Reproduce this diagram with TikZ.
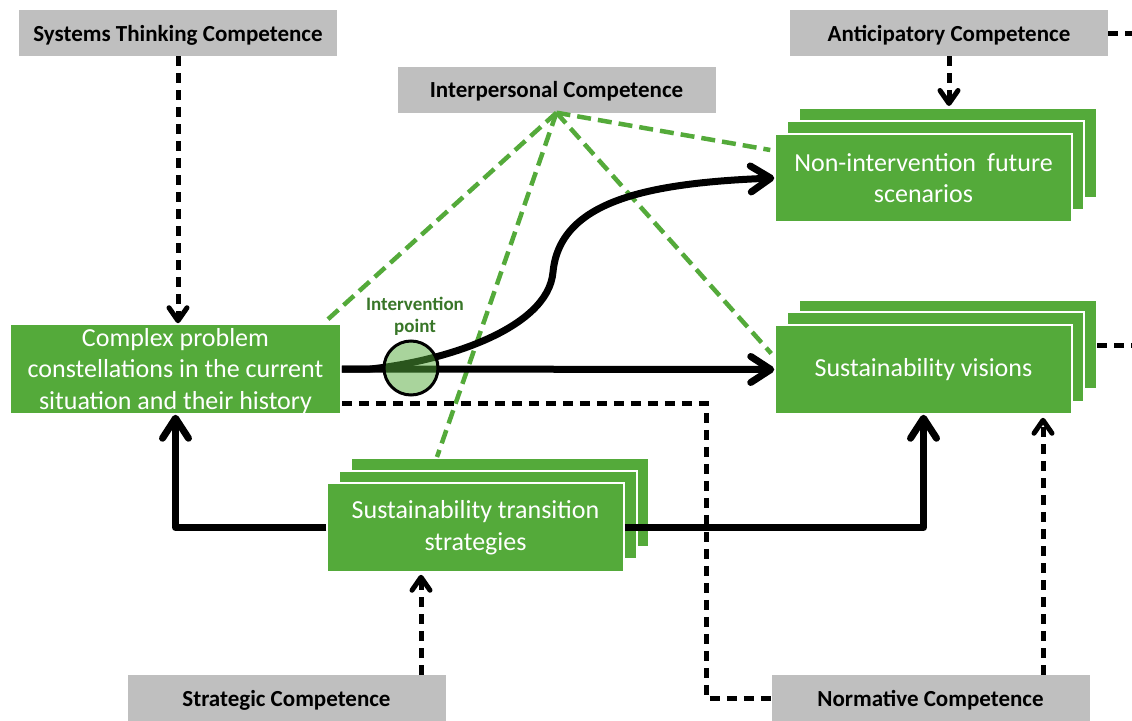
\documentclass[tikz,border=0pt]{standalone}
\usepackage{fontspec}
\setmainfont{Carlito}
\usetikzlibrary{arrows.meta,calc}
\definecolor{boxgreen}{RGB}{84,170,58}
\definecolor{boxgray}{RGB}{191,191,191}
\definecolor{darkgreen}{RGB}{56,118,40}
\begin{document}
\begin{tikzpicture}[x=1pt,y=-1pt,
  comp/.style={fill=boxgray, inner sep=0pt, font=\bfseries\fontsize{23}{27}\selectfont, minimum width=318pt, minimum height=46pt, text height=18pt, text depth=2pt},
  gbox/.style={fill=boxgreen, draw=white, line width=1.5pt, text=white, inner sep=0pt, font=\fontsize{26}{31.5}\selectfont, align=center},
  layer/.style={fill=boxgreen, draw=white, line width=1.5pt},
  bdash/.style={draw=black, line width=5pt, dash pattern=on 10pt off 7pt},
  gdash/.style={draw=boxgreen, line width=4.5pt, dash pattern=on 14pt off 7pt},
  thick line/.style={draw=black, line width=7pt, line join=round},
  bigtip/.style={-{Straight Barb[length=20pt,width=26pt,round]}},
  smalltip/.style={-{Straight Barb[length=13pt,width=18pt,round]}}]
\useasboundingbox (0,0) rectangle (1132,720);

% stacked back layers
\draw[layer] (799,108) rectangle (1097,198);
\draw[layer] (787,121) rectangle (1084,210);
\draw[layer] (799,300) rectangle (1097,389);
\draw[layer] (787,312) rectangle (1084,402);
\draw[layer] (351,458) rectangle (649,547);
\draw[layer] (339,471) rectangle (637,559);

% gray competence boxes
\node[comp] (sys) at (178,33) {Systems Thinking Competence};
\node[comp] (ant) at (949,33) {Anticipatory Competence};
\node[comp] (inter) at (556.5,89.5) {Interpersonal Competence};
\node[comp] (strat) at (286.5,698) {Strategic Competence};
\node[comp] (norm) at (930.5,698) {Normative Competence};

% green boxes
\node[gbox, minimum width=331pt, minimum height=90pt] (cpx) at (175.5,369) {\rule{0pt}{22pt}Complex problem\\constellations in the current\\situation and their history};
\node[gbox, minimum width=297pt, minimum height=88pt] (nif) at (923.5,178) {Non-intervention\hspace{11pt}future\\scenarios};
\node[gbox, minimum width=297pt, minimum height=89pt] (vis) at (923.5,369.5) {Sustainability visions};
\node[gbox, minimum width=297pt, minimum height=89pt] (stb) at (475.5,527.5) {Sustainability transition\\strategies};

% helper coordinates
\coordinate (c1) at ($(cpx.north east)+(-16,-2)$);
\coordinate (c2) at (437,457);
\coordinate (c3) at ($(vis.west)+(-3,-16)$);
\coordinate (c4) at ($(nif.west)+(-4,-28)$);
\coordinate (antend) at (1132,33);
\coordinate (visend) at (1132,345);
\coordinate (visback) at (1097,345);
\coordinate (nbtop) at (949,106);
\coordinate (nc) at (706,403);
\coordinate (nx) at (1043,0);
\coordinate (sx) at (421,0);
\coordinate (cs) at (370,369);
\coordinate (infl) at (553,272);

% green dashed (interpersonal)
\draw[gdash] (inter.south) -- (c1);
\draw[gdash] (inter.south) -- (c2);
\draw[gdash] (inter.south) -- (c3);
\draw[gdash] (inter.south) -- (c4);

% black dashed
\draw[bdash, smalltip] (sys.south) -- (sys.south |- cpx.north);
\draw[bdash, smalltip] (ant.south) -- (nbtop);
\draw[bdash] (ant.east) -- (antend);
\draw[bdash] (visback) -- (visend);
\draw[bdash] ($(cpx.east)+(0,34)$) -- (nc) |- (norm.west);
\draw[bdash, smalltip] (norm.north -| nx) -- ($(vis.south -| nx)+(0,3)$);
\draw[bdash, smalltip] (strat.north -| sx) -- ($(stb.south -| sx)+(0,2)$);

% thick solid connectors
\draw[thick line, bigtip] (stb.west) -| (cpx.south);
\draw[thick line, bigtip] (stb.east) -| (vis.south);
\draw[thick line, bigtip] (cpx.east) -- (vis.west);
\draw[thick line, bigtip] (cpx.east) -- (cs) .. controls (440,362) and (548,330) .. (infl) .. controls (560,200) and (650,183) .. (nif.west);

% intervention point
\node[circle, draw=black, line width=3pt, fill=boxgreen, fill opacity=0.5, minimum size=54pt, inner sep=0pt] (ip) at (411,368) {};
\node[font=\bfseries\fontsize{19}{22}\selectfont, text=darkgreen, align=center] (iplabel) at (415,316) {Intervention\\point};
\end{tikzpicture}
\end{document}
